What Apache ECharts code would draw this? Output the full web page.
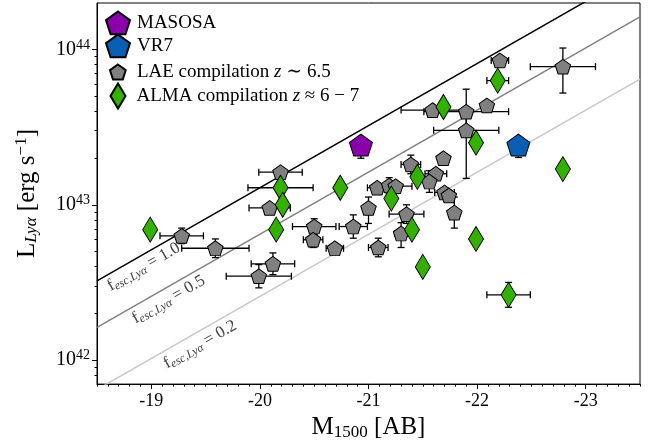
<!DOCTYPE html>
<html><head><meta charset="utf-8">
<script src="https://cdn.jsdelivr.net/npm/echarts@6/dist/echarts.min.js"></script>
<style>html,body{margin:0;padding:0;background:#fff}#c{width:655px;height:446px}</style>
</head><body><div id="c"></div>
<script>
// ---------- data ----------
const xTicks = [-19, -20, -21, -22, -23];
const yTicks = [42, 43, 44];               // log10 L

// LAE compilation z ~ 6.5
const laeM    = [-19.28,-19.59,-20.12,-19.99,-20.09,-20.19,-20.50,-20.49,-20.69,-20.86,-21.00,-21.09,-21.08,-21.19,-21.25,-21.39,-21.35,-21.30,-21.59,-21.90,-21.90,-22.09,-21.69,-21.62,-21.56,-21.70,-21.74,-21.79,-22.21,-22.79];
const laeLogL = [42.80,42.72,42.62,42.54,42.98,43.21,42.86,42.775,42.72,42.86,42.98,42.725,43.11,43.125,43.12,43.26,42.94,42.815,43.61,43.60,43.48,43.64,43.30,43.20,43.15,43.08,43.06,42.95,43.93,43.89];
const laeXErr = [0.20,0.31,0.20,0.30,0.19,0.20,0.20,0.09,0.08,0.13,0,0.09,0.09,0,0.15,0.09,0.16,0.06,0.29,0.39,0.30,0,0,0.10,0,0.09,0,0,0.08,0.30];
const laeYUp  = [0.05,0.06,0.07,0.075,0,0,0.05,0.05,0.03,0.075,0.07,0.06,0,0.05,0,0.06,0.06,0.07,0,0.145,0.11,0,0,0,0.07,0,0,0.1,0,0.12];
const laeYDn  = [0.05,0.06,0.07,0.075,0,0,0.05,0.05,0.03,0.075,0.10,0.06,0,0.05,0,0.06,0.06,0.09,0,0.10,0.31,0,0,0,0.07,0,0,0.1,0,0.17];

// ALMA compilation z ~ 6-7
const almaM    = [-18.99,-20.19,-20.21,-20.15,-20.74,-21.21,-21.45,-21.40,-21.50,-21.69,-21.99,-22.19,-22.79,-21.99,-22.29];
const almaLogL = [42.84,43.11,43.00,42.84,43.11,43.04,43.18,42.84,42.60,43.63,43.40,43.80,43.23,42.78,42.42];
const almaXErr = [0,0.30,0,0,0,0,0,0,0,0,0,0.10,0,0,0.20];
const almaYErr = [0,0,0,0,0,0,0,0,0,0,0,0,0,0,0.08];

const masosaM = [-20.93], masosaLogL = [43.385], masosaYUp = [0.04], masosaYDn = [0.085];
const vr7M    = [-22.38], vr7LogL    = [43.385], vr7YUp    = [0.04], vr7YDn    = [0.08];

// f_esc lines (log10 L at M = -18.5 and M = -23.5)
const fescLabels   = ['1.0', '0.5', '0.2'];
const fescLineM    = [-18.5, -23.5];
const fescLineLogL = [[42.51, 44.51], [42.21, 44.21], [41.81, 43.81]];

// ---------- chart ----------
const FONT = "'Liberation Serif','DejaVu Serif',serif";
const PENT = 'path://M0,-1L0.9511,-0.309L0.5878,0.809L-0.5878,0.809L-0.9511,-0.309Z';
const X_MIN = -23.5, X_MAX = -18.5, Y_MIN = 41.845, Y_MAX = 44.30;

const minorX = [];
for (let i = -235; i <= -185; i++) if (i % 10 !== 0) minorX.push(i / 10);
const minorY = [];
for (let n = 41; n <= 44; n++) for (let k = 2; k <= 9; k++) {
  const v = n + Math.log10(k);
  if (v > Y_MIN + 0.002 && v < Y_MAX - 0.002) minorY.push(v);
}

function errRender(params, api) {
  const x = api.value(0), y = api.value(1), xe = api.value(2), yu = api.value(3), yd = api.value(4);
  const c = api.coord([x, y]);
  const st = { stroke: '#000', lineWidth: 1.3 };
  const cap = 3.5;
  const ch = [];
  const ln = (x1, y1, x2, y2) => ch.push({ type: 'line', shape: { x1, y1, x2, y2 }, style: st });
  if (xe > 0) {
    const l = api.coord([x - xe, y]), r = api.coord([x + xe, y]);
    ln(l[0], l[1], r[0], r[1]);
    ln(l[0], l[1] - cap, l[0], l[1] + cap);
    ln(r[0], r[1] - cap, r[0], r[1] + cap);
  }
  if (yu > 0) {
    const t = api.coord([x, y + yu]);
    ln(c[0], c[1], t[0], t[1]);
    ln(t[0] - cap, t[1], t[0] + cap, t[1]);
  }
  if (yd > 0) {
    const b = api.coord([x, y - yd]);
    ln(c[0], c[1], b[0], b[1]);
    ln(b[0] - cap, b[1], b[0] + cap, b[1]);
  }
  return { type: 'group', children: ch };
}

const laeErr  = laeM.map((m, i) => [m, laeLogL[i], laeXErr[i], laeYUp[i], laeYDn[i]]);
const almaErr = almaM.map((m, i) => [m, almaLogL[i], almaXErr[i], almaYErr[i], almaYErr[i]]);
const masErr  = masosaM.map((m, i) => [m, masosaLogL[i], 0, masosaYUp[i], masosaYDn[i]]);
const vrErr   = vr7M.map((m, i) => [m, vr7LogL[i], 0, vr7YUp[i], vr7YDn[i]]);

const NAMES = {
  mas: 'MASOSA', vr: 'VR7',
  lae: 'LAE compilation z \u223C 6.5',
  alma: 'ALMA compilation z \u2248 6 \u2212 7'
};
const legendFmt = {
  [NAMES.mas]: '{p|MASOSA}',
  [NAMES.vr]: '{p|VR7}',
  [NAMES.lae]: '{q|LAE compilation }{i|z}{t| \u223C 6.5}',
  [NAMES.alma]: '{q|ALMA compilation }{i|z}{t| \u2248 6 \u2212 7}'
};
function legendItem(name, left, top, w, h, icon, padL) {
  return {
    data: [name], left, top, itemWidth: w, itemHeight: h, icon,
    selectedMode: false, orient: 'vertical', padding: 0,
    formatter: n => legendFmt[n],
    textStyle: {
      fontFamily: FONT, fontSize: 19, color: '#000',
      rich: {
        t: { fontFamily: FONT, fontSize: 19, color: '#000' },
        p: { fontFamily: FONT, fontSize: 19, color: '#000', padding: [0, 0, 0, padL] },
        q: { fontFamily: FONT, fontSize: 19, color: '#000', padding: [0, 0, 0, padL] },
        i: { fontFamily: FONT, fontSize: 19, color: '#000', fontStyle: 'italic' }
      }
    }
  };
}

const fescColors = ['#000000', '#808080', '#c8c8c8'];
const series = [];
fescLineLogL.forEach((pair, k) => {
  series.push({
    type: 'line', name: 'fesc' + k, data: fescLineM.map((m, i) => [m, pair[i]]),
    symbol: 'none', lineStyle: { color: fescColors[k], width: 1.5 }, clip: true, z: 1,
    silent: true, animation: false
  });
});
series.push({ type: 'custom', name: 'laeErr', data: laeErr, renderItem: errRender, clip: true, z: 2, silent: true });
series.push({
  type: 'scatter', name: NAMES.lae, data: laeM.map((m, i) => [m, laeLogL[i]]),
  symbol: PENT, symbolSize: [15.5, 14.7],
  itemStyle: { color: '#808080', borderColor: '#000', borderWidth: 1, opacity: 1 }, z: 3
});
series.push({ type: 'custom', name: 'almaErr', data: almaErr, renderItem: errRender, clip: true, z: 4, silent: true });
series.push({
  type: 'scatter', name: NAMES.alma, data: almaM.map((m, i) => [m, almaLogL[i]]),
  symbol: 'diamond', symbolSize: [15, 25],
  itemStyle: { color: '#33b000', borderColor: '#000', borderWidth: 1, opacity: 1 }, z: 5
});
series.push({ type: 'custom', name: 'masErr', data: masErr, renderItem: errRender, clip: true, z: 6, silent: true });
series.push({
  type: 'scatter', name: NAMES.mas, data: masosaM.map((m, i) => [m, masosaLogL[i]]),
  symbol: PENT, symbolSize: [23, 22],
  itemStyle: { color: '#8a00aa', borderColor: '#000', borderWidth: 1, opacity: 1 }, z: 7
});
series.push({ type: 'custom', name: 'vrErr', data: vrErr, renderItem: errRender, clip: true, z: 6, silent: true });
series.push({
  type: 'scatter', name: NAMES.vr, data: vr7M.map((m, i) => [m, vr7LogL[i]]),
  symbol: PENT, symbolSize: [23, 22],
  itemStyle: { color: '#0a5fb5', borderColor: '#000', borderWidth: 1, opacity: 1 }, z: 7
});

const chart = echarts.init(document.getElementById('c'));
chart.setOption({
  animation: false,
  backgroundColor: '#fff',
  grid: { left: 97, right: 15, top: 3, bottom: 52, show: true, borderColor: '#000', borderWidth: 1, backgroundColor: 'transparent' },
  xAxis: [{
    type: 'value', min: X_MIN, max: X_MAX, inverse: true, position: 'bottom',
    axisLine: { show: true, lineStyle: { color: '#000', width: 1 } },
    axisTick: { show: true, customValues: xTicks, length: 5, lineStyle: { color: '#000' } },
    axisLabel: { customValues: xTicks, formatter: v => String(v), fontFamily: FONT, fontSize: 18, color: '#000', margin: 8 },
    splitLine: { show: false },
    name: '{m|M}{sub|1500}{m| [AB]}', nameLocation: 'middle', nameGap: 27,
    nameTextStyle: { fontFamily: FONT, fontSize: 25, color: '#000',
      rich: { m: { fontFamily: FONT, fontSize: 25, color: '#000' },
              sub: { fontFamily: FONT, fontSize: 17, color: '#000', padding: [10, 0, 0, 0] } } }
  }, {
    type: 'value', min: X_MIN, max: X_MAX, inverse: true, position: 'bottom',
    axisLine: { show: false },
    axisTick: { show: true, customValues: minorX, length: 2.5, lineStyle: { color: '#000' } },
    axisLabel: { show: false }, splitLine: { show: false }
  }],
  yAxis: [{
    type: 'value', min: Y_MIN, max: Y_MAX, position: 'left',
    axisLine: { show: true, lineStyle: { color: '#000', width: 1 } },
    axisTick: { show: true, customValues: yTicks, length: 5, lineStyle: { color: '#000' } },
    axisLabel: {
      customValues: yTicks, margin: 7,
      formatter: v => '{b|10}{s|' + Math.round(v) + '}',
      rich: { b: { fontFamily: FONT, fontSize: 20, color: '#000' },
              s: { fontFamily: FONT, fontSize: 14, color: '#000', padding: [0, 0, 9, 0] } }
    },
    splitLine: { show: false },
    name: '{m|L}{sub|Ly\u03B1}{m| [erg s}{sup|\u22121}{m|]}', nameLocation: 'middle', nameGap: 56,
    nameTextStyle: { fontFamily: FONT, fontSize: 25, color: '#000',
      rich: { m: { fontFamily: FONT, fontSize: 25, color: '#000' },
              sub: { fontFamily: FONT, fontSize: 17, color: '#000', fontStyle: 'italic', padding: [10, 0, 0, 0] },
              sup: { fontFamily: FONT, fontSize: 17, color: '#000', padding: [0, 0, 11, 0] } } }
  }, {
    type: 'value', min: Y_MIN, max: Y_MAX, position: 'left',
    axisLine: { show: false },
    axisTick: { show: true, customValues: minorY, length: 2.5, lineStyle: { color: '#000' } },
    axisLabel: { show: false }, splitLine: { show: false }
  }],
  legend: [
    legendItem(NAMES.mas, 105, 10.5, 24, 23, PENT, 2),
    legendItem(NAMES.vr, 105, 33.5, 24, 23, PENT, 2),
    legendItem(NAMES.lae, 109, 62.5, 16, 15, PENT, 6),
    legendItem(NAMES.alma, 109.5, 82.5, 15, 25, 'diamond', 6)
  ],
  series
});

// f_esc labels placed along each line through the axis scales
const lblAnchors = [[-18.93, 42.60], [-19.16, 42.39], [-19.45, 42.10]];
const p1 = chart.convertToPixel({ xAxisIndex: 0, yAxisIndex: 0 }, [fescLineM[0], fescLineLogL[0][0]]);
const p2 = chart.convertToPixel({ xAxisIndex: 0, yAxisIndex: 0 }, [fescLineM[1], fescLineLogL[0][1]]);
const ang = Math.atan2(-(p2[1] - p1[1]), p2[0] - p1[0]);
const graphic = lblAnchors.map((a, k) => {
  const p = chart.convertToPixel({ xAxisIndex: 0, yAxisIndex: 0 }, a);
  return {
    type: 'text', x: p[0], y: p[1], rotation: ang, z: 10, silent: true,
    style: {
      text: '{f|f}{s|esc,Ly\u03B1}{f| = ' + fescLabels[k] + '}',
      align: 'center', verticalAlign: 'middle',
      rich: {
        f: { fontFamily: FONT, fontSize: 17, fill: '#444' },
        s: { fontFamily: FONT, fontSize: 12, fill: '#444', fontStyle: 'italic', padding: [7, 0, 0, 0] }
      }
    }
  };
});
chart.setOption({ graphic });
</script></body></html>
